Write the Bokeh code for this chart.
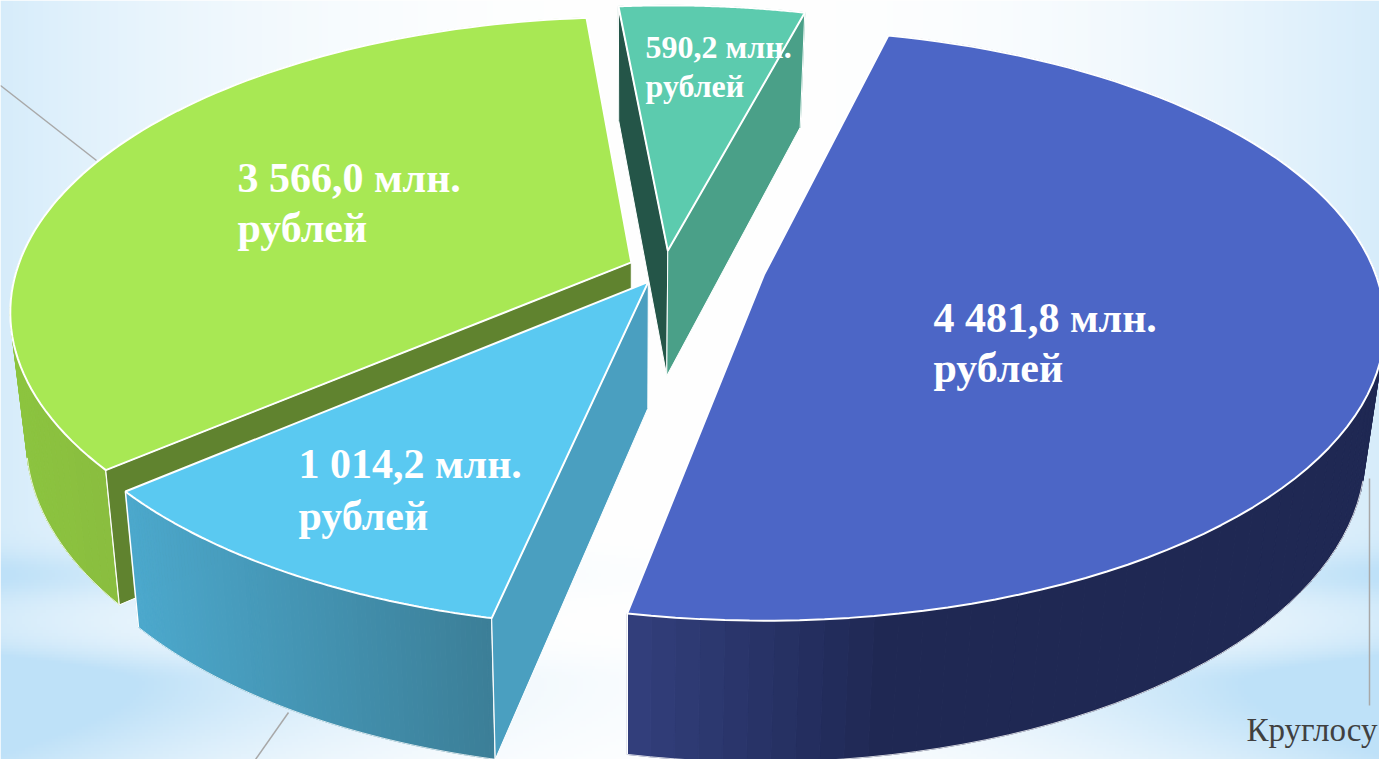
import numpy as np
from bokeh.plotting import figure
from bokeh.embed import file_html
from bokeh.resources import INLINE
from bokeh.core.properties import value
from bokeh.models import Range1d

# ---- data (clockwise from the top of the pie) ----
values = [4481.8, 1014.2, 3566.0, 590.2]
value_labels = ["4 481,8 млн.", "1 014,2 млн.", "3 566,0 млн.", "590,2 млн."]
unit_label = "рублей"
partial_label = "Круглосу"

# ---- styles / layout ----
top_colors = ["#4c66c6", "#5ac9f1", "#a8e854", "#5ccbae"]
wall_a = ["#34417f", "#4ca8cc", "#8cc43f", "#4aa088"]   # wall colour, low x end
wall_b = ["#1f2853", "#3c7f98", "#8abd40", "#4aa088"]   # wall colour, high x end
wall_x = [(628, 900), (133, 490), (20, 124), (620, 805)]
radial_start = ["#1f2853", "#4a9fc0", "#60832f", "#245548"]  # wall on the slice's first edge
radial_end = ["#1f2853", "#4a9fc0", "#60832f", "#4aa088"]    # wall on the slice's last edge
explode = [0.167, 0.054, 0.06, 0.07]
nudge = [(-2, -4), (0, 0), (0, 0), (0, 2)]
edge_adjust = [(-0.3, -1.3), (0.3, 0.0), (0.4, 2.7), (2.2, 1.1)]  # deg, per slice edge
CX, CY = 665, 268
R, RY, K = 612, 287, 0.17          # ground-circle projection
START, SKEW = 14.0, 11.0           # start angle, camera skew (deg)
VX, SX = 628, 0.974                # x vanishing column and shrink of the base
D0, D1 = 114.3, 0.0435             # extrusion depth vs y

fy = lambda y: 759 - np.asarray(y, dtype=float)   # picture y -> plot y


def unit(phi):
    r = np.radians(phi)
    X, Y = np.sin(r), np.cos(r)
    w = 1 + K * Y
    return R * X / w, -RY * Y / w


def warp(theta):
    return theta + SKEW * np.sin(np.radians(theta - START) / 2) ** 2


def base(x, y):
    return VX + (np.asarray(x) - VX) * SX, np.asarray(y) + D0 + D1 * np.asarray(y)


def hex2rgb(h):
    return np.array([int(h[i:i + 2], 16) for i in (1, 3, 5)], float)


def mix(a, b, t):
    c = hex2rgb(a) * (1 - t) + hex2rgb(b) * t
    return "#%02x%02x%02x" % tuple(int(v) for v in c)


W, H = 1379, 759
p = figure(width=W, height=H, output_backend="svg", toolbar_location=None,
           x_range=Range1d(0, W), y_range=Range1d(0, H),
           min_border=0, outline_line_color=None)
p.axis.visible = False
p.grid.visible = False

# backdrop
gx, gy = np.meshgrid(np.linspace(0, 1379, 460), np.linspace(0, 759, 253))
ex = np.abs(gx - 690) / 690
edge = np.clip(ex ** 2.4 * 0.62, 0, 1)
band1 = np.exp(-((gy - 575) / 24) ** 2) * (0.04 + 0.35 * ex ** 1.5)
sig = np.where(gy < 683, 30, 80)
band2 = np.exp(-((gy - 683) / sig) ** 2) * (0.08 + 0.75 * ex ** 1.5)
t = np.clip(edge + band1 + band2, 0, 1)
blue = np.array([190, 225, 248.0])
img = np.zeros(gx.shape + (4,), dtype=np.uint8)
for i in range(3):
    img[..., i] = (255 * (1 - t) + blue[i] * t).astype(np.uint8)
img[..., 3] = 255
img32 = img.view(dtype=np.uint32).reshape(gx.shape)[::-1]
p.image_rgba(image=[img32], x=0, y=0, dw=1379, dh=759)

# pie
order = [2, 1, 3, 0]   # painter's order
total = sum(values)
cum = np.concatenate([[0], np.cumsum(values)]) / total * 360 + START

for i in order:
    th = np.linspace(cum[i], cum[i + 1], 90)
    phi = warp(th) + np.linspace(edge_adjust[i][0], edge_adjust[i][1], len(th))
    mid = np.radians(warp((cum[i] + cum[i + 1]) / 2))
    ax = CX + nudge[i][0] + explode[i] * R * np.sin(mid) / (1 + K * explode[i] * np.cos(mid))
    ay = CY + nudge[i][1] - explode[i] * RY * np.cos(mid) / (1 + K * explode[i] * np.cos(mid))
    ux, uy = unit(phi)
    tx, ty = ax + ux, ay + uy
    bx, by = base(tx, ty)
    abx, aby = base(ax, ay)
    # outer wall as shaded strips
    xs, ys, cs = [], [], []
    x0, x1 = wall_x[i]
    for j in range(len(tx) - 1):
        xs.append([tx[j], tx[j + 1], bx[j + 1], bx[j]])
        ys.append(list(fy([ty[j], ty[j + 1], by[j + 1], by[j]])))
        tt = float(np.clip((tx[j] - x0) / (x1 - x0), 0, 1))
        cs.append(mix(wall_a[i], wall_b[i], tt))
    p.patches(xs, ys, fill_color=cs, line_color=cs, line_width=1)
    front = np.cos(np.radians(phi)) < -0.22
    if front.any():
        p.line(bx[front], fy(by[front]), line_color="#ffffff", line_width=1, line_alpha=0.8)
    # white vertical edges where an outer wall meets a slice edge
    for k in (0, -1):
        if np.cos(np.radians(phi[k])) < 0:
            p.line([tx[k], bx[k]], fy([ty[k], by[k]]), line_color="#ffffff", line_width=1.5)
    # radial walls, only those turned towards the viewer
    if np.sin(np.radians(phi[0])) < 0:
        p.patch([ax, tx[0], bx[0], abx], fy([ay, ty[0], by[0], aby]),
                fill_color=radial_start[i], line_color="#ffffff", line_width=1)
    if np.sin(np.radians(phi[-1])) > 0:
        p.patch([ax, tx[-1], bx[-1], abx], fy([ay, ty[-1], by[-1], aby]),
                fill_color=radial_end[i], line_color="#ffffff", line_width=1)
    # top face
    p.patch(np.concatenate([[ax], tx]), fy(np.concatenate([[ay], ty])),
            fill_color=top_colors[i], line_color="#ffffff", line_width=2)

# leader lines
lc = "#a8a8a8"
p.line([0, 96], fy([85, 160]), line_color=lc, line_width=1.5)
p.line([288, 255], fy([712, 759]), line_color=lc, line_width=1.5)
p.line([1369, 1369], fy([478, 705]), line_color=lc, line_width=1.5)

# labels
pos = [(933, 317, 50, 42), (298, 463, 52, 42), (237, 177, 50, 42), (645, 46, 39, 32)]
for lab, (x, y, dy, fs) in zip(value_labels, pos):
    for txt, yy in ((lab, y), (unit_label, y + dy)):
        p.text([x], fy([yy]), text=[txt], text_color="#ffffff", text_font=value("Liberation Serif"),
               text_font_style="bold", text_font_size=f"{fs}px", text_baseline="alphabetic", text_align="left")
p.text([1246], fy([729]), text=[partial_label], text_color="#404040", text_font=value("Liberation Serif"),
       text_font_size="33px", text_baseline="alphabetic", text_align="left")

open("out.html", "w").write(file_html(p, INLINE))
